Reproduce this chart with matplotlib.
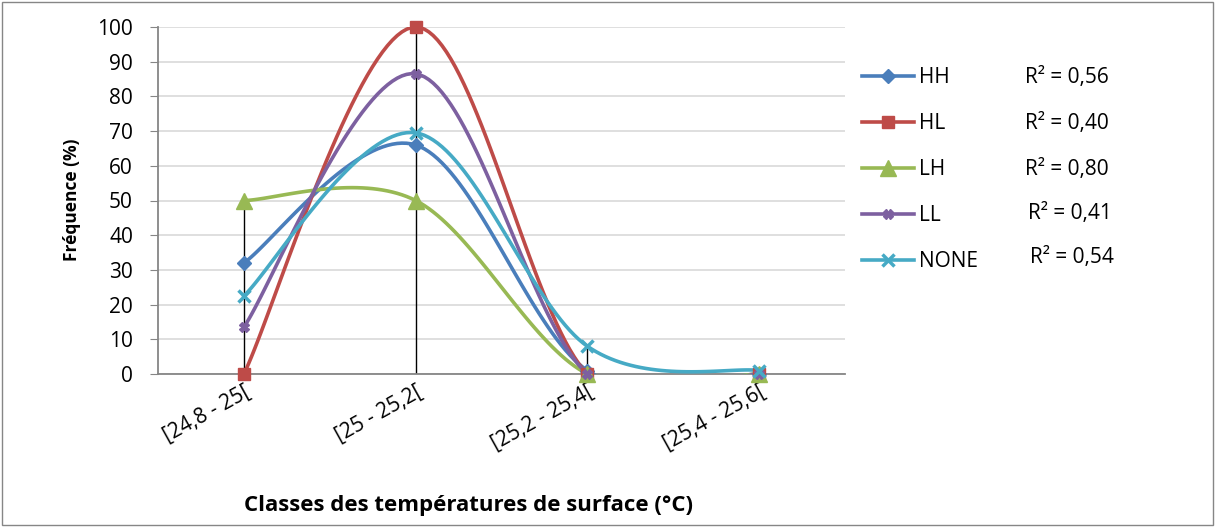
import matplotlib
matplotlib.use("Agg")
import matplotlib.pyplot as plt
import numpy as np

# Données
classes = ['[24,8 - 25[', '[25 - 25,2[', '[25,2 - 25,4[', '[25,4 - 25,6[']
series = ['HH', 'HL', 'LH', 'LL', 'NONE']
hh = [32, 66, 1, 0]
hl = [0, 100, 0, 0]
lh = [50, 50, 0, 0]
ll = [13.5, 86.5, 0, 0]
none = [22.5, 69.5, 8, 1]
r2 = ['0,56', '0,40', '0,80', '0,41', '0,54']

couleurs = ['#4a7ebb', '#be4b48', '#98b954', '#7d60a0', '#46aac5']
marqueurs = ['D', 's', '^', 'X', 'x']
tailles = [7, 8, 11, 6.5, 9]

plt.rcParams['font.family'] = ['Open Sans', 'DejaVu Sans']


def lissage(x, y, n=40):
    # courbe lissée type Excel (Bézier cubique, tension 1/6)
    x = np.asarray(x, float)
    y = np.asarray(y, float)
    px, py = [], []
    for i in range(len(x) - 1):
        x0, y0 = (x[i - 1], y[i - 1]) if i > 0 else (x[i], y[i])
        x3, y3 = (x[i + 2], y[i + 2]) if i + 2 < len(x) else (x[i + 1], y[i + 1])
        c1x = x[i] + (x[i + 1] - x0) / 6
        c1y = y[i] + (y[i + 1] - y0) / 6
        c2x = x[i + 1] - (x3 - x[i]) / 6
        c2y = y[i + 1] - (y3 - y[i]) / 6
        t = np.linspace(0, 1, n)
        px.extend((1 - t) ** 3 * x[i] + 3 * (1 - t) ** 2 * t * c1x + 3 * (1 - t) * t ** 2 * c2x + t ** 3 * x[i + 1])
        py.extend((1 - t) ** 3 * y[i] + 3 * (1 - t) ** 2 * t * c1y + 3 * (1 - t) * t ** 2 * c2y + t ** 3 * y[i + 1])
    return px, py


fig = plt.figure(figsize=(12.17, 5.27), dpi=100)
ax = fig.add_axes([158 / 1217, 1 - 374 / 527, (845 - 158) / 1217, (374 - 27) / 527])

x = np.arange(len(classes))
donnees = [hh, hl, lh, ll, none]

# lignes de projection (noires)
maxi = np.max(np.array(donnees), axis=0)
ax.vlines(x, 0, maxi, color='black', lw=1, zorder=2)

handles = []
for nom, vals, c, m, s in zip(series, donnees, couleurs, marqueurs, tailles):
    mew = 2.5 if m == 'x' else 1
    sx, sy = lissage(x, vals)
    # la courbe est coupée au bord de la zone de tracé, comme dans Excel
    ax.plot(sx, sy, color=c, lw=2.6, zorder=3)
    ax.plot(x, vals, ls='none', marker=m, color=c, markersize=s,
            markeredgewidth=mew, zorder=4, clip_on=False)
    h, = ax.plot([], [], color=c, lw=2.6, marker=m, markersize=s, markeredgewidth=mew)
    handles.append(h)

ax.set_xlim(-0.5, len(classes) - 0.5)
ax.set_ylim(0, 100)
ax.set_yticks(range(0, 101, 10))
ax.set_xticks(x)
ax.set_xticklabels(classes, rotation=29, ha='right', rotation_mode='anchor', fontsize=15)
ax.tick_params(axis='y', labelsize=15, length=6, color='#868686', pad=12)
ax.tick_params(axis='x', length=0, pad=5)
ax.grid(axis='y', color='#d9d9d9', lw=1.2)
ax.set_axisbelow(True)
for sp in ['top', 'right']:
    ax.spines[sp].set_visible(False)
for sp in ['left', 'bottom']:
    ax.spines[sp].set_color('#868686')
    ax.spines[sp].set_linewidth(1.3)

fig.text(72 / 1217, 1 - 200 / 527, 'Fréquence (%)', rotation=90,
         ha='center', va='center', fontsize=12.5, fontweight='bold')
fig.text(469 / 1217, 1 - 505 / 527, 'Classes des températures de surface (°C)',
         ha='center', va='center', fontsize=16, fontweight='bold')

leg = fig.legend(handles, series, loc='upper left', bbox_to_anchor=(862 / 1217, 1 - 67 / 527),
                 frameon=False, fontsize=15, handlelength=2.5, labelspacing=1.2,
                 handletextpad=0.25, borderpad=0, borderaxespad=0)

ys = [78, 123, 170, 214, 257]
xs = [1025, 1025, 1025, 1028, 1030]
for t, yy, xx in zip(r2, ys, xs):
    fig.text(xx / 1217, 1 - yy / 527, 'R² = ' + t, fontsize=15, va='center')

# bordure de la zone de graphique
fig.patches.append(plt.Rectangle((0.002, 0.003), 0.995, 0.993, transform=fig.transFigure,
                                 fill=False, edgecolor='#868686', lw=1))

fig.savefig('out.png', dpi=100)
